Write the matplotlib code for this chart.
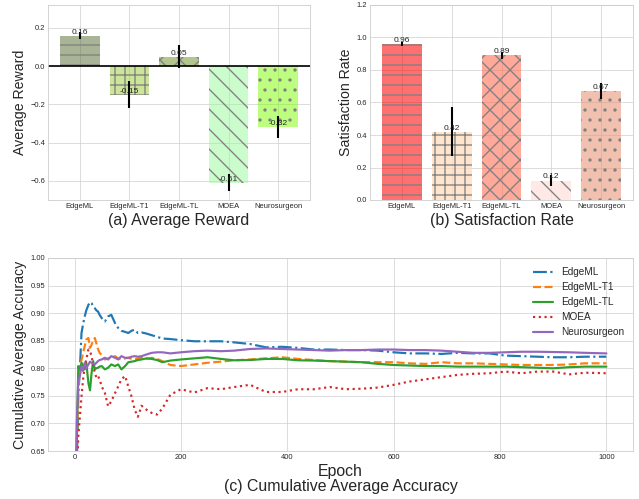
import matplotlib
matplotlib.use('Agg')
import matplotlib.pyplot as plt
from matplotlib.colors import to_rgba

# Datos de las barras
metodos = ['EdgeML', 'EdgeML-T1', 'EdgeML-TL', 'MOEA', 'Neurosurgeon']
recompensa = [0.16, -0.15, 0.05, -0.61, -0.32]
recompensa_err = [0.02, 0.07, 0.06, 0.045, 0.057]
satisfaccion = [0.96, 0.42, 0.89, 0.12, 0.67]
satisfaccion_err = [0.01, 0.15, 0.02, 0.036, 0.05]

# Datos de la precisión acumulada
epocas = [1, 4, 7, 10, 13, 16, 19, 22, 26, 29, 32, 35, 38, 41, 44, 47, 51, 57, 63, 69,
          76, 82, 88, 95, 101, 107, 113, 119, 126, 135, 145, 155, 165, 180, 200, 225,
          250, 275, 300, 330, 360, 390, 420, 450, 480, 510, 540, 570, 600, 630, 660,
          690, 720, 750, 780, 810, 840, 870, 900, 930, 960, 1000]
acc_edgeml = [0.50, 0.62, 0.75, 0.80, 0.864, 0.88, 0.894, 0.905, 0.915, 0.92, 0.918, 0.912,
              0.909, 0.905, 0.903, 0.897, 0.891, 0.885, 0.894, 0.897, 0.882, 0.873, 0.868,
              0.866, 0.864, 0.868, 0.870, 0.864, 0.865, 0.863, 0.860, 0.857, 0.854, 0.853,
              0.851, 0.849, 0.849, 0.849, 0.847, 0.844, 0.838, 0.839, 0.837, 0.834, 0.834,
              0.833, 0.833, 0.832, 0.829, 0.827, 0.827, 0.826, 0.828, 0.827, 0.827, 0.823,
              0.822, 0.821, 0.820, 0.820, 0.821, 0.821]
acc_t1 = [0.50, 0.65, 0.76, 0.804, 0.815, 0.828, 0.840, 0.852, 0.855, 0.837, 0.843, 0.850,
          0.855, 0.845, 0.835, 0.828, 0.824, 0.816, 0.818, 0.820, 0.822, 0.818, 0.816,
          0.818, 0.819, 0.817, 0.816, 0.818, 0.819, 0.817, 0.819, 0.817, 0.813, 0.806,
          0.804, 0.807, 0.810, 0.812, 0.8145, 0.816, 0.818, 0.820, 0.817, 0.815, 0.813,
          0.812, 0.811, 0.811, 0.811, 0.809, 0.808, 0.811, 0.809, 0.809, 0.808, 0.807,
          0.806, 0.806, 0.806, 0.807, 0.809, 0.809]
acc_tl = [0.50, 0.66, 0.804, 0.798, 0.81, 0.805, 0.798, 0.810, 0.773, 0.760, 0.792, 0.813,
          0.798, 0.800, 0.801, 0.803, 0.804, 0.798, 0.801, 0.807, 0.804, 0.807, 0.798,
          0.804, 0.811, 0.812, 0.813, 0.815, 0.816, 0.818, 0.817, 0.815, 0.811, 0.814,
          0.816, 0.818, 0.820, 0.817, 0.8145, 0.815, 0.817, 0.817, 0.8145, 0.814, 0.813,
          0.812, 0.811, 0.808, 0.806, 0.805, 0.804, 0.804, 0.803, 0.803, 0.803, 0.803,
          0.802, 0.801, 0.800, 0.802, 0.803, 0.803]
acc_moea = [0.45, 0.60, 0.677, 0.713, 0.749, 0.78, 0.804, 0.816, 0.834, 0.831, 0.822, 0.804,
            0.792, 0.783, 0.786, 0.78, 0.767, 0.755, 0.731, 0.74, 0.755, 0.767, 0.780,
            0.786, 0.767, 0.749, 0.725, 0.712, 0.732, 0.725, 0.719, 0.716, 0.727, 0.752,
            0.762, 0.756, 0.764, 0.762, 0.766, 0.770, 0.757, 0.757, 0.762, 0.762, 0.766,
            0.762, 0.763, 0.765, 0.770, 0.776, 0.780, 0.784, 0.788, 0.790, 0.791, 0.794,
            0.791, 0.794, 0.794, 0.789, 0.792, 0.791]
acc_neuro = [0.50, 0.70, 0.78, 0.786, 0.804, 0.795, 0.81, 0.80, 0.807, 0.812, 0.81, 0.808,
             0.807, 0.81, 0.813, 0.815, 0.816, 0.819, 0.816, 0.822, 0.819, 0.816, 0.822,
             0.819, 0.819, 0.821, 0.822, 0.821, 0.822, 0.825, 0.828, 0.829, 0.829, 0.827,
             0.829, 0.831, 0.832, 0.831, 0.832, 0.835, 0.836, 0.835, 0.834, 0.833, 0.832,
             0.833, 0.833, 0.834, 0.834, 0.833, 0.833, 0.832, 0.830, 0.828, 0.828, 0.829,
             0.830, 0.830, 0.8295, 0.829, 0.828, 0.827]

# Estilos
tramas = ['-', '+', 'x', '\\', '.']
colores_a = [to_rgba('darkolivegreen', 0.5), to_rgba('yellowgreen', 0.5), to_rgba('olivedrab', 0.5),
             to_rgba('palegreen', 0.5), to_rgba('lawngreen', 0.5)]
colores_b = [to_rgba('red', 0.56), to_rgba('peachpuff', 0.7), to_rgba('tomato', 0.55),
             to_rgba('mistyrose', 0.8), to_rgba('darksalmon', 0.6)]

plt.style.use('seaborn-v0_8-whitegrid')
plt.rcParams['font.family'] = 'sans-serif'
plt.rcParams['font.sans-serif'] = ['Liberation Sans', 'DejaVu Sans']
plt.rcParams['hatch.linewidth'] = 1.6

DPI = 60
fig = plt.figure(figsize=(639 / DPI, 499 / DPI), dpi=DPI)
ax_a = fig.add_axes([48 / 639, 1 - 200 / 499, 262 / 639, 195 / 499])
ax_b = fig.add_axes([370 / 639, 1 - 200 / 499, 263 / 639, 195 / 499])
ax_c = fig.add_axes([48 / 639, 1 - 451 / 499, 585 / 639, 193 / 499])


def graficar_barras(ax, valores, errores, colores, etiqueta_y, titulo):
    pos = range(len(metodos))
    barras = ax.bar(pos, valores, width=0.8, yerr=errores, color=colores,
                    edgecolor='gray', linewidth=0,
                    error_kw=dict(ecolor='k', elinewidth=2.5, capsize=0))
    for b, t in zip(barras, tramas):
        b.set_hatch(t)
    for x, v in zip(pos, valores):
        ax.text(x, v, f'{v:.2f}', ha='center', va='bottom', fontsize=10)
    ax.set_xticks(list(pos))
    ax.set_xticklabels(metodos, fontsize=9)
    ax.tick_params(axis='y', labelsize=9)
    ax.set_ylabel(etiqueta_y, fontsize=17)
    ax.set_xlabel(titulo, fontsize=19)


graficar_barras(ax_a, recompensa, recompensa_err, colores_a, 'Average Reward', '(a) Average Reward')
ax_a.axhline(0, color='k', lw=2)
ax_a.set_ylim(-0.7, 0.32)
ax_a.set_yticks([-0.6, -0.4, -0.2, 0.0, 0.2])

graficar_barras(ax_b, satisfaccion, satisfaccion_err, colores_b, 'Satisfaction Rate', '(b) Satisfaction Rate')
ax_b.set_ylim(0, 1.2)

# Precisión acumulada
series = [(acc_edgeml, 'EdgeML', '#1f77b4', '-.'),
          (acc_t1, 'EdgeML-T1', '#ff7f0e', '--'),
          (acc_tl, 'EdgeML-TL', '#2ca02c', '-'),
          (acc_moea, 'MOEA', '#d62728', ':'),
          (acc_neuro, 'Neurosurgeon', '#9467bd', '-')]
for datos, nombre, color, estilo in series:
    ax_c.plot(epocas, datos, color=color, linestyle=estilo, lw=2.6, label=nombre)
ax_c.set_xlim(-50, 1050)
ax_c.set_ylim(0.65, 1.0)
ax_c.set_xticks([0, 200, 400, 600, 800, 1000])
ax_c.set_yticks([0.65, 0.70, 0.75, 0.80, 0.85, 0.90, 0.95, 1.00])
ax_c.tick_params(labelsize=9)
ax_c.set_ylabel('Cumulative Average Accuracy', fontsize=17)
ax_c.set_xlabel('Epoch\n(c) Cumulative Average Accuracy', fontsize=19, linespacing=1.0)
ax_c.legend(loc='upper right', fontsize=12)

fig.savefig('out.png', dpi=DPI)
